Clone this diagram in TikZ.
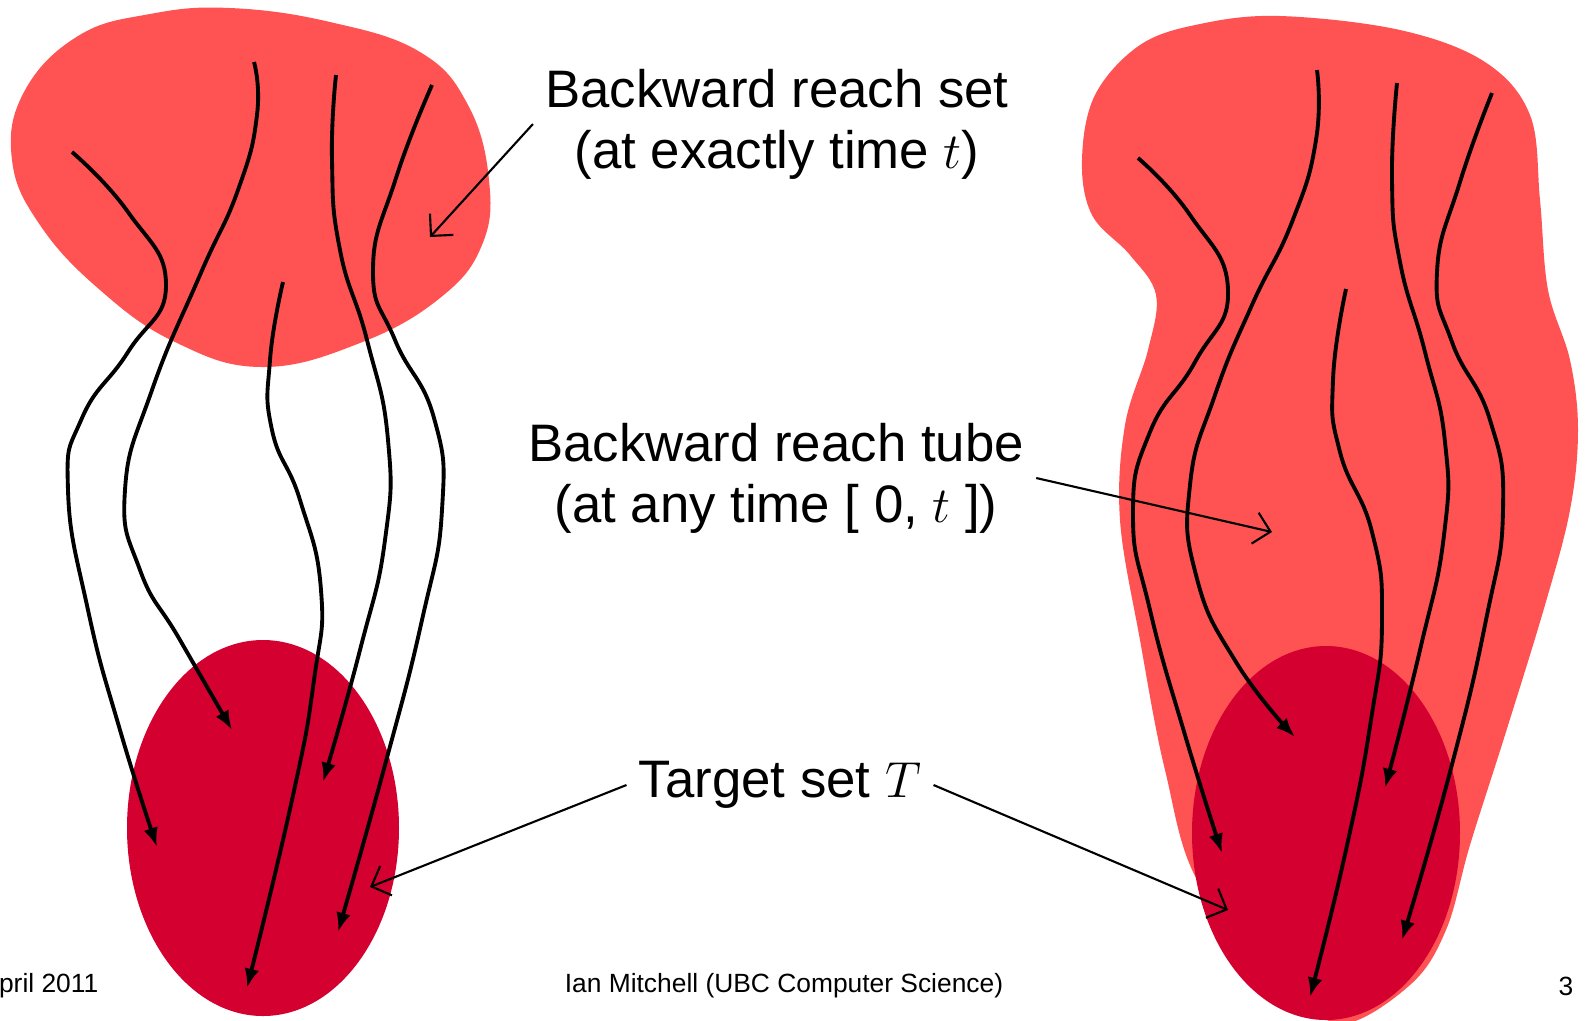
\documentclass[tikz,border=0pt]{standalone}
\usepackage{fontspec}
\setmainfont{Liberation Sans}
\usetikzlibrary{arrows.meta}
\definecolor{reachred}{HTML}{FF5252}
\definecolor{targetred}{HTML}{D30030}

\begin{document}
\begin{tikzpicture}[x=0.01cm,y=-0.01cm,
  traj/.style={line width=1.1pt,-{Latex[length=5.5pt,width=4.2pt]}},
  pointer/.style={line width=0.6pt,-{Straight Barb[length=4.5pt,width=9pt]}},
  lbl/.style={align=center,font=\fontsize{15}{17.4}\selectfont},
  foot/.style={font=\fontsize{7.5}{9}\selectfont}]
\useasboundingbox (0,0) rectangle (1593,1020);

% reach set (left) and reach tube (right)
\fill[reachred] plot[smooth cycle,tension=0.7] coordinates {
  (230,8) (330,22) (420,52) (468,105) (489,180) (482,245) (440,298)
  (360,343) (262,367) (175,342) (100,290) (40,225) (12,160) (24,92)
  (78,36) (150,14)};
\fill[reachred] plot[smooth cycle,tension=0.6] coordinates {
  (1280,16) (1400,30) (1485,62) (1530,115) (1540,200) (1548,290)
  (1570,360) (1578,430) (1570,510) (1545,605) (1505,735) (1470,845)
  (1446,930) (1410,985) (1340,1024) (1290,980) (1200,885) (1165,770)
  (1140,640) (1120,520) (1125,425) (1148,350) (1156,295) (1130,255)
  (1092,215) (1082,160) (1095,95) (1140,45) (1200,24)};

% target sets
\fill[targetred] (263,828) ellipse [x radius=136,y radius=188];
\fill[targetred] (1326,833) ellipse [x radius=134,y radius=187];

% trajectories, left
\draw[traj] plot[smooth,tension=0.85] coordinates {
  (72,152) (128,212) (166,285) (128,352) (82,418) (68,490) (88,610)
  (120,730) (157,847)};
\draw[traj] plot[smooth,tension=0.85] coordinates {
  (254,62) (257,115) (238,190) (200,275) (152,390) (125,490) (140,570)
  (180,640) (232,730)};
\draw[traj] plot[smooth,tension=0.85] coordinates {
  (283,282) (270,360) (272,430) (300,500) (321,590) (314,680) (292,800)
  (247,988)};
\draw[traj] plot[smooth,tension=0.85] coordinates {
  (336,75) (332,160) (340,250) (367,340) (388,440) (385,540) (360,650)
  (323,782)};
\draw[traj] plot[smooth,tension=0.85] coordinates {
  (432,85) (396,178) (373,270) (395,340) (434,418) (442,510) (422,620)
  (385,765) (338,932)};

% trajectories, right
\draw[traj] plot[smooth,tension=0.85] coordinates {
  (1138,158) (1190,215) (1228,290) (1195,362) (1150,432) (1133,515)
  (1150,610) (1185,735) (1222,853)};
\draw[traj] plot[smooth,tension=0.85] coordinates {
  (1317,70) (1316,140) (1292,222) (1252,305) (1215,395) (1190,485)
  (1196,575) (1236,662) (1295,737)};
\draw[traj] plot[smooth,tension=0.85] coordinates {
  (1346,289) (1333,380) (1340,452) (1372,532) (1382,620) (1371,720)
  (1346,850) (1310,997)};
\draw[traj] plot[smooth,tension=0.85] coordinates {
  (1397,83) (1392,180) (1400,262) (1425,352) (1445,442) (1444,535)
  (1420,650) (1385,788)};
\draw[traj] plot[smooth,tension=0.85] coordinates {
  (1492,93) (1460,182) (1437,272) (1452,342) (1490,420) (1503,510)
  (1486,620) (1450,772) (1402,940)};

% labels
\node (set) at (777,124) [lbl] {Backward reach set\\(at exactly time $t$)};
\node (tube) at (776,478) [lbl] {Backward reach tube\\(at any time [ 0, $t$ ])};
\node (tgt) at (780,785) [lbl] {Target set $T$};

\coordinate (setpt) at (430,237);
\coordinate (tubept) at (1272,532);
\coordinate (tgtl) at (370,887);
\coordinate (tgtr) at (1228,910);
\draw[pointer] (set.west) -- (setpt);
\draw[pointer] (tube.east) -- (tubept);
\draw[pointer] (tgt.west) -- (tgtl);
\draw[pointer] (tgt.east) -- (tgtr);

% footer
\node (date) at (99,986) [foot,anchor=east,inner sep=0pt] {April 2011};
\node (auth) at (784,986) [foot] {Ian Mitchell (UBC Computer Science)};
\node (page) at (1566,986) [foot] {3};
\end{tikzpicture}
\end{document}
